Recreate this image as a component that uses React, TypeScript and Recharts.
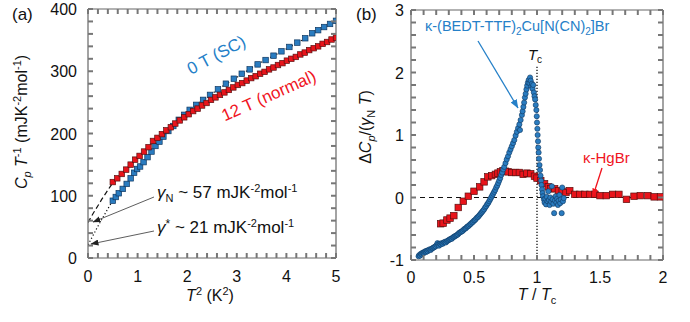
import React from 'react';
import { ComposedChart, Scatter, Line, XAxis, YAxis, ReferenceLine } from 'recharts';

const FONT = '"Liberation Sans", Arial, Helvetica, sans-serif';
const FRAME = '#666666';
const TICK_COLOR = '#777777';
const BLUE = '#2a7cc0';
const BLUE_EDGE = '#0f3760';
const RED = '#e8141b';
const RED_EDGE = '#5a1010';
const BLUE_TEXT = '#2580c8';
const RED_TEXT = '#f0141e';

// ---------- Panel (a): C_p/T vs T^2 ----------
const aRed12T: [number, number][] = [
  [0.5, 122], [0.59, 128], [0.68, 135], [0.77, 142], [0.86, 150], [0.95, 158], [1.04, 164], [1.13, 171],
  [1.22, 178], [1.31, 188], [1.4, 193], [1.49, 199], [1.58, 205], [1.67, 210], [1.76, 216], [1.85, 221],
  [1.94, 226], [2.03, 231], [2.12, 236], [2.21, 240], [2.3, 245], [2.39, 249], [2.48, 254], [2.57, 258],
  [2.66, 262], [2.75, 266], [2.84, 270], [2.93, 274], [3.02, 278], [3.11, 281], [3.2, 285], [3.29, 289],
  [3.38, 292], [3.47, 296], [3.56, 299], [3.65, 303], [3.74, 306], [3.83, 310], [3.92, 313], [4.01, 317],
  [4.1, 320], [4.19, 323], [4.28, 327], [4.37, 330], [4.46, 334], [4.55, 337], [4.64, 340], [4.73, 344],
  [4.82, 347], [4.91, 351], [5.0, 354],
];
const aBlue0T: [number, number][] = [
  [0.5, 92], [0.56, 98], [0.62, 104], [0.7, 111], [0.78, 119], [0.86, 128], [0.93, 137], [0.99, 143],
  [1.05, 147], [1.12, 154], [1.2, 162], [1.28, 171], [1.36, 180], [1.44, 187], [1.52, 195], [1.62, 204],
  [1.72, 212], [1.83, 222], [1.94, 230], [2.05, 238], [2.18, 246], [2.32, 254], [2.46, 262], [2.62, 271],
  [2.78, 280], [2.94, 288], [3.1, 296], [3.26, 303], [3.42, 311], [3.58, 318], [3.74, 325], [3.9, 332],
  [4.06, 339], [4.22, 346], [4.38, 353], [4.52, 361], [4.64, 366], [4.76, 371], [4.88, 376], [5.0, 381],
];
const aFitRedExtrap: [number, number][] = [[0, 57], [0.1, 71], [0.2, 84], [0.3, 97], [0.4, 109], [0.5, 121]];
const aFitRed: [number, number][] = [
  [0.5, 121], [0.75, 141], [1, 161], [1.25, 181], [1.5, 199], [1.75, 214], [2, 229], [2.25, 242],
  [2.5, 254], [2.75, 266], [3, 276], [3.25, 286], [3.5, 296], [3.75, 306], [4, 316], [4.25, 325],
  [4.5, 335], [4.75, 345], [5, 354],
];
const aFitBlue: [number, number][] = [
  [0, 21], [0.1, 36], [0.2, 51], [0.3, 65], [0.4, 79], [0.5, 92], [0.75, 116], [1, 143], [1.25, 168],
  [1.5, 193], [1.75, 214], [2, 234], [2.25, 250], [2.5, 264], [2.75, 278], [3, 290], [3.25, 303],
  [3.5, 315], [3.75, 325], [4, 336], [4.25, 347], [4.5, 359], [4.75, 370], [5, 381],
];
const aXMajor = [0, 1, 2, 3, 4, 5];
const aXLabels = ['0', '1', '2', '3', '4', '5'];
const aYMajor = [0, 100, 200, 300, 400];
const aYLabels = ['0', '100', '200', '300', '400'];

// ---------- Panel (b): ΔC_p/(γ_N T) vs T/Tc ----------
const bKBr: [number, number][] = [
  [0.060, -0.94], [0.066, -0.92], [0.072, -0.93], [0.078, -0.90], [0.084, -0.91], [0.090, -0.89], [0.096, -0.88],
  [0.102, -0.89], [0.108, -0.87], [0.114, -0.86], [0.120, -0.87], [0.126, -0.85], [0.132, -0.86], [0.140, -0.84],
  [0.148, -0.83], [0.156, -0.84], [0.164, -0.82], [0.172, -0.81], [0.180, -0.80], [0.188, -0.79], [0.196, -0.78],
  [0.204, -0.76], [0.210, -0.73], [0.216, -0.75], [0.222, -0.77], [0.228, -0.74], [0.236, -0.75], [0.244, -0.73],
  [0.252, -0.74], [0.260, -0.72], [0.268, -0.71], [0.276, -0.72], [0.284, -0.70], [0.292, -0.69], [0.300, -0.68],
  [0.308, -0.67], [0.316, -0.66], [0.324, -0.66], [0.332, -0.64], [0.340, -0.63], [0.348, -0.62], [0.356, -0.61],
  [0.364, -0.60], [0.372, -0.59], [0.380, -0.57], [0.388, -0.56], [0.396, -0.55], [0.404, -0.54], [0.412, -0.53],
  [0.420, -0.51], [0.428, -0.50], [0.436, -0.49], [0.444, -0.47], [0.452, -0.46], [0.460, -0.45], [0.468, -0.43],
  [0.476, -0.42], [0.484, -0.40], [0.492, -0.39], [0.500, -0.37], [0.508, -0.36], [0.516, -0.34], [0.524, -0.32],
  [0.532, -0.31], [0.540, -0.29], [0.548, -0.27], [0.556, -0.25], [0.564, -0.23], [0.572, -0.21], [0.580, -0.19],
  [0.588, -0.16], [0.596, -0.14], [0.604, -0.11], [0.612, -0.09], [0.620, -0.06], [0.628, -0.03], [0.636, 0.00],
  [0.644, 0.03], [0.652, 0.06], [0.660, 0.09], [0.668, 0.12], [0.676, 0.16], [0.684, 0.19], [0.692, 0.23],
  [0.700, 0.27], [0.708, 0.31], [0.716, 0.36], [0.724, 0.40], [0.732, 0.45], [0.740, 0.49], [0.750, 0.55],
  [0.760, 0.61], [0.770, 0.66], [0.780, 0.72], [0.790, 0.77], [0.800, 0.82], [0.810, 0.87], [0.820, 0.92],
  [0.830, 0.99], [0.840, 1.05], [0.850, 1.11], [0.860, 1.17], [0.865, 1.08], [0.870, 1.24], [0.880, 1.32],
  [0.886, 1.38], [0.892, 1.45], [0.898, 1.52], [0.904, 1.60], [0.910, 1.66], [0.916, 1.73], [0.922, 1.79],
  [0.928, 1.84], [0.934, 1.88], [0.940, 1.83], [0.945, 1.92], [0.950, 1.87], [0.955, 1.78], [0.960, 1.82],
  [0.965, 1.74], [0.970, 1.80], [0.975, 1.68], [0.980, 1.62], [0.985, 1.57], [0.990, 1.48], [0.995, 1.40],
  [0.998, 1.30], [1.000, 1.20], [1.003, 1.10], [1.005, 1.00], [1.008, 0.90], [1.010, 0.80], [1.013, 0.72],
  [1.016, 0.62], [1.020, 0.52], [1.024, 0.44], [1.028, 0.35], [1.032, 0.27], [1.036, 0.20], [1.040, 0.13],
  [1.044, 0.07], [1.048, 0.02], [1.055, -0.03], [1.060, -0.08], [1.066, -0.02], [1.072, -0.11], [1.078, 0.01],
  [1.084, -0.06], [1.090, 0.10], [1.095, -0.04], [1.100, -0.12], [1.106, 0.00], [1.112, -0.07], [1.118, 0.18],
  [1.124, -0.03], [1.130, -0.10], [1.136, -0.25], [1.142, -0.05], [1.148, 0.02], [1.154, -0.08], [1.160, -0.02],
  [1.166, -0.12], [1.172, -0.05], [1.178, 0.04], [1.184, -0.09], [1.190, -0.03], [1.196, -0.25], [1.200, 0.16],
  [1.206, -0.06], [1.212, -0.01],
];
const bKHgBr: [number, number][] = [
  [0.235, -0.42], [0.255, -0.41], [0.285, -0.36], [0.31, -0.33], [0.34, -0.29], [0.375, -0.16], [0.415, -0.06],
  [0.455, 0.02], [0.5, 0.1], [0.545, 0.17], [0.58, 0.25], [0.61, 0.33], [0.64, 0.35], [0.67, 0.37], [0.69, 0.39],
  [0.71, 0.41], [0.73, 0.43], [0.75, 0.42], [0.77, 0.41], [0.8, 0.4], [0.83, 0.4], [0.86, 0.4], [0.89, 0.37],
  [0.92, 0.39], [0.95, 0.38], [0.98, 0.34], [1.0, 0.31], [1.03, 0.27], [1.06, 0.22], [1.09, 0.17], [1.11, 0.14],
  [1.14, 0.14], [1.17, 0.11], [1.2, 0.1], [1.23, 0.08], [1.26, 0.11], [1.3, 0.05], [1.34, 0.05], [1.38, 0.05],
  [1.42, 0.05], [1.46, 0.05], [1.5, 0.03], [1.55, 0.03], [1.6, 0.05], [1.65, 0.05], [1.71, -0.03], [1.77, 0.02],
  [1.82, 0.03], [1.88, 0.03], [1.93, 0.01], [1.98, 0.01],
];
const bXMajor = [0, 0.5, 1, 1.5, 2];
const bXLabels = ['0', '0.5', '1', '1.5', '2'];
const bYMajor = [-1, 0, 1, 2, 3];
const bYLabels = ['-1', '0', '1', '2', '3'];
const bTcTop = 2.1;

const range = (a: number, b: number, step: number) => {
  const out: number[] = [];
  for (let i = 0; a + i * step <= b + 1e-9; i++) out.push(Math.round((a + i * step) * 1000) / 1000);
  return out;
};
const rows = (pts: [number, number][]) => pts.map(([x, y]) => ({ x, y }));

type Side = 'bottom' | 'left' | 'top' | 'right';
const TICK_LEN = 5;
const TICK_W = 2;

function makeTick(side: Side, majors: number[], labels: string[] | null, labelOff: number) {
  return (props: any) => {
    const x = Number(props.x);
    const y = Number(props.y);
    const v = props.payload ? props.payload.value : 0;
    const idx = majors.findIndex((m) => Math.abs(m - v) < 1e-6);
    let d = '';
    if (side === 'bottom') d = `M${x},${y}V${y - TICK_LEN}`;
    else if (side === 'top') d = `M${x},${y}V${y + TICK_LEN}`;
    else if (side === 'left') d = `M${x},${y}H${x + TICK_LEN}`;
    else d = `M${x},${y}H${x - TICK_LEN}`;
    let label: any = null;
    if (labels && idx >= 0) {
      label =
        side === 'bottom' ? (
          <text x={x} y={y + labelOff} textAnchor="middle" fontSize={16} fontFamily={FONT} fill="#111" stroke="none">
            {labels[idx]}
          </text>
        ) : (
          <text x={x - labelOff} y={y + 6} textAnchor="end" fontSize={16} fontFamily={FONT} fill="#111" stroke="none">
            {labels[idx]}
          </text>
        );
    }
    return (
      <g>
        <path d={d} stroke={TICK_COLOR} strokeWidth={TICK_W} fill="none" />
        {label}
      </g>
    );
  };
}

const squareShape = (fill: string, edge: string, s: number) => (p: any) => (
  <rect x={p.cx - s / 2} y={p.cy - s / 2} width={s} height={s} fill={fill} stroke={edge} strokeWidth={0.7} />
);
const circleShape = (fill: string, edge: string, r: number) => (p: any) => (
  <circle cx={p.cx} cy={p.cy} r={r} fill={fill} stroke={edge} strokeWidth={0.6} />
);

const axisLine = { stroke: FRAME, strokeWidth: 1.2 };
const common = {
  allowDataOverflow: true,
  interval: 0 as const,
  tickSize: 0,
  tickMargin: 0,
  tickLine: false,
  axisLine,
};

function PanelA() {
  const xt = range(0, 5, 0.2);
  const yt = range(0, 400, 20);
  return (
    <ComposedChart width={345} height={322} margin={{ top: 4, right: 4, bottom: 34, left: 38 }}>
      <Scatter xAxisId="b" yAxisId="l" data={rows(aBlue0T)} dataKey="y" isAnimationActive={false}
        shape={squareShape(BLUE, BLUE_EDGE, 5.5)} />
      <Scatter xAxisId="b" yAxisId="l" data={rows(aRed12T)} dataKey="y" isAnimationActive={false}
        shape={squareShape(RED, RED_EDGE, 5.5)} />
      <Line xAxisId="b" yAxisId="l" data={rows(aFitRedExtrap)} dataKey="y" type="monotone" stroke="#111"
        strokeWidth={1.2} strokeDasharray="5 3" dot={false} isAnimationActive={false} />
      <Line xAxisId="b" yAxisId="l" data={rows(aFitRed)} dataKey="y" type="monotone" stroke="#111"
        strokeWidth={1} dot={false} isAnimationActive={false} />
      <Line xAxisId="b" yAxisId="l" data={rows(aFitBlue)} dataKey="y" type="monotone" stroke="#111"
        strokeWidth={1.2} strokeDasharray="1.2 2.3" dot={false} isAnimationActive={false} />
      <XAxis xAxisId="b" type="number" dataKey="x" domain={[0, 5]} ticks={xt} height={30} {...common}
        tick={makeTick('bottom', aXMajor, aXLabels, 24)} />
      <XAxis xAxisId="t" orientation="top" type="number" dataKey="x" domain={[0, 5]} ticks={xt} height={5}
        {...common} tick={makeTick('top', aXMajor, null, 0)} />
      <YAxis yAxisId="l" type="number" dataKey="y" domain={[0, 400]} ticks={yt} width={50} {...common}
        tick={makeTick('left', aYMajor, aYLabels, 11)} />
      <YAxis yAxisId="r" orientation="right" type="number" dataKey="y" domain={[0, 400]} ticks={yt} width={5}
        {...common} tick={makeTick('right', aYMajor, null, 0)} />
    </ComposedChart>
  );
}

function PanelB() {
  const xt = range(0, 2, 0.1);
  const yt = range(-1, 3, 0.2);
  return (
    <ComposedChart width={345} height={322} margin={{ top: 5, right: 22, bottom: 32, left: 16 }}>
      <ReferenceLine xAxisId="b" yAxisId="l" y={0} stroke="#111" strokeWidth={1.2} strokeDasharray="5 4" />
      <ReferenceLine xAxisId="b" yAxisId="l" segment={[{ x: 1, y: -1 }, { x: 1, y: bTcTop }]} stroke="#111"
        strokeWidth={1.3} strokeDasharray="1.3 1.7" />
      <Scatter xAxisId="b" yAxisId="l" data={rows(bKHgBr)} dataKey="y" isAnimationActive={false}
        shape={squareShape(RED, RED_EDGE, 6.5)} />
      <Scatter xAxisId="b" yAxisId="l" data={rows(bKBr)} dataKey="y" isAnimationActive={false}
        shape={circleShape(BLUE, BLUE_EDGE, 2.6)} />
      <XAxis xAxisId="b" type="number" dataKey="x" domain={[0, 2]} ticks={xt} height={30} {...common}
        tick={makeTick('bottom', bXMajor, bXLabels, 23)} />
      <XAxis xAxisId="t" orientation="top" type="number" dataKey="x" domain={[0, 2]} ticks={xt} height={5}
        {...common} tick={makeTick('top', bXMajor, null, 0)} />
      <YAxis yAxisId="l" type="number" dataKey="y" domain={[-1, 3]} ticks={yt} width={50} {...common}
        tick={makeTick('left', bYMajor, bYLabels, 7)} />
      <YAxis yAxisId="r" orientation="right" type="number" dataKey="y" domain={[-1, 3]} ticks={yt} width={5}
        {...common} tick={makeTick('right', bYMajor, null, 0)} />
    </ComposedChart>
  );
}

function Overlay() {
  const t = { fontFamily: FONT, fill: '#111' } as const;
  return (
    <svg width={690} height={322} style={{ position: 'absolute', left: 0, top: 0, pointerEvents: 'none' }}>
      <defs>
        <marker id="ahK" markerWidth="8" markerHeight="6" refX="7.5" refY="3" orient="auto" markerUnits="userSpaceOnUse">
          <path d="M0,0 L8,3 L0,6 z" fill="#222" />
        </marker>
        <marker id="ahB" markerWidth="9" markerHeight="7" refX="8.5" refY="3.5" orient="auto" markerUnits="userSpaceOnUse">
          <path d="M0,0 L9,3.5 L0,7 z" fill={BLUE_TEXT} />
        </marker>
        <marker id="ahR" markerWidth="8" markerHeight="6" refX="7.5" refY="3" orient="auto" markerUnits="userSpaceOnUse">
          <path d="M0,0 L8,3 L0,6 z" fill={RED_TEXT} />
        </marker>
      </defs>
      <text x={12} y={20} fontSize={17} {...t}>(a)</text>
      <text x={356} y={20} fontSize={17} {...t}>(b)</text>

      <text transform="translate(27,122) rotate(-90)" textAnchor="middle" fontSize={16} {...t}>
        <tspan fontStyle="italic">C</tspan>
        <tspan fontStyle="italic" fontSize={11} dy={4}>p</tspan>
        <tspan dy={-4}> </tspan>
        <tspan fontStyle="italic">T</tspan>
        <tspan fontSize={11} dy={-6}>-1</tspan>
        <tspan dy={6}> (mJK</tspan>
        <tspan fontSize={11} dy={-6}>-2</tspan>
        <tspan dy={6}>mol</tspan>
        <tspan fontSize={11} dy={-6}>-1</tspan>
        <tspan dy={6}>)</tspan>
      </text>
      <text x={210} y={301} textAnchor="middle" fontSize={16} {...t}>
        <tspan fontStyle="italic">T</tspan>
        <tspan fontSize={11} dy={-6}>2</tspan>
        <tspan dy={6}> (K</tspan>
        <tspan fontSize={11} dy={-6}>2</tspan>
        <tspan dy={6}>)</tspan>
      </text>

      <text transform="translate(219,60) rotate(-28)" textAnchor="middle" fontSize={17} fontFamily={FONT} fill={BLUE_TEXT}>0 T (SC)</text>
      <text transform="translate(271,101) rotate(-24)" textAnchor="middle" fontSize={17} fontFamily={FONT} fill={RED_TEXT}>12 T (normal)</text>
      <text x={157} y={198} fontSize={17} {...t}>
        <tspan fontStyle="italic">γ</tspan>
        <tspan fontSize={11} dy={4}>N</tspan>
        <tspan dy={-4}> ~ 57 mJK</tspan>
        <tspan fontSize={11} dy={-6}>-2</tspan>
        <tspan dy={6}>mol</tspan>
        <tspan fontSize={11} dy={-6}>-1</tspan>
      </text>
      <text x={157} y={233} fontSize={17} {...t}>
        <tspan fontStyle="italic">γ</tspan>
        <tspan fontSize={12} dy={-5}>*</tspan>
        <tspan dy={5}> ~ 21 mJK</tspan>
        <tspan fontSize={11} dy={-6}>-2</tspan>
        <tspan dy={6}>mol</tspan>
        <tspan fontSize={11} dy={-6}>-1</tspan>
      </text>
      <line x1={154} y1={197} x2={93} y2={222} stroke="#333" strokeWidth={0.8} markerEnd="url(#ahK)" />
      <line x1={154} y1={231} x2={91} y2={244} stroke="#333" strokeWidth={0.8} markerEnd="url(#ahK)" />

      <text transform="translate(371,127) rotate(-90)" textAnchor="middle" fontSize={16} {...t}>
        <tspan>Δ</tspan>
        <tspan fontStyle="italic">C</tspan>
        <tspan fontStyle="italic" fontSize={11} dy={4}>p</tspan>
        <tspan dy={-4}>/(</tspan>
        <tspan fontStyle="italic">γ</tspan>
        <tspan fontSize={11} dy={4}>N</tspan>
        <tspan dy={-4}> </tspan>
        <tspan fontStyle="italic">T</tspan>
        <tspan>)</tspan>
      </text>
      <text x={537} y={300} textAnchor="middle" fontSize={16} {...t}>
        <tspan fontStyle="italic">T</tspan>
        <tspan> / </tspan>
        <tspan fontStyle="italic">T</tspan>
        <tspan fontSize={11} dy={4}>c</tspan>
      </text>

      <text x={425} y={31} fontSize={14.5} fontFamily={FONT} fill={BLUE_TEXT}>
        <tspan>κ-(BEDT-TTF)</tspan>
        <tspan fontSize={10} dy={4}>2</tspan>
        <tspan dy={-4}>Cu[N(CN)</tspan>
        <tspan fontSize={10} dy={4}>2</tspan>
        <tspan dy={-4}>]Br</tspan>
      </text>
      <line x1={478} y1={41} x2={518} y2={108} stroke={BLUE_TEXT} strokeWidth={1.3} markerEnd="url(#ahB)" />
      <text x={535} y={60} textAnchor="middle" fontSize={15} {...t}>
        <tspan fontStyle="italic">T</tspan>
        <tspan fontSize={10} dy={3}>c</tspan>
      </text>
      <text x={583} y={163} fontSize={15} fontFamily={FONT} fill={RED_TEXT}>κ-HgBr</text>
      <line x1={602} y1={168} x2={593} y2={196} stroke={RED_TEXT} strokeWidth={1.3} markerEnd="url(#ahR)" />
    </svg>
  );
}

export default function App() {
  return (
    <div style={{ position: 'absolute', left: 0, top: 0, width: 690, height: 322, background: '#fff', fontFamily: FONT }}>
      <div style={{ position: 'absolute', left: 0, top: 0 }}>
        <PanelA />
      </div>
      <div style={{ position: 'absolute', left: 345, top: 0 }}>
        <PanelB />
      </div>
      <Overlay />
    </div>
  );
}
